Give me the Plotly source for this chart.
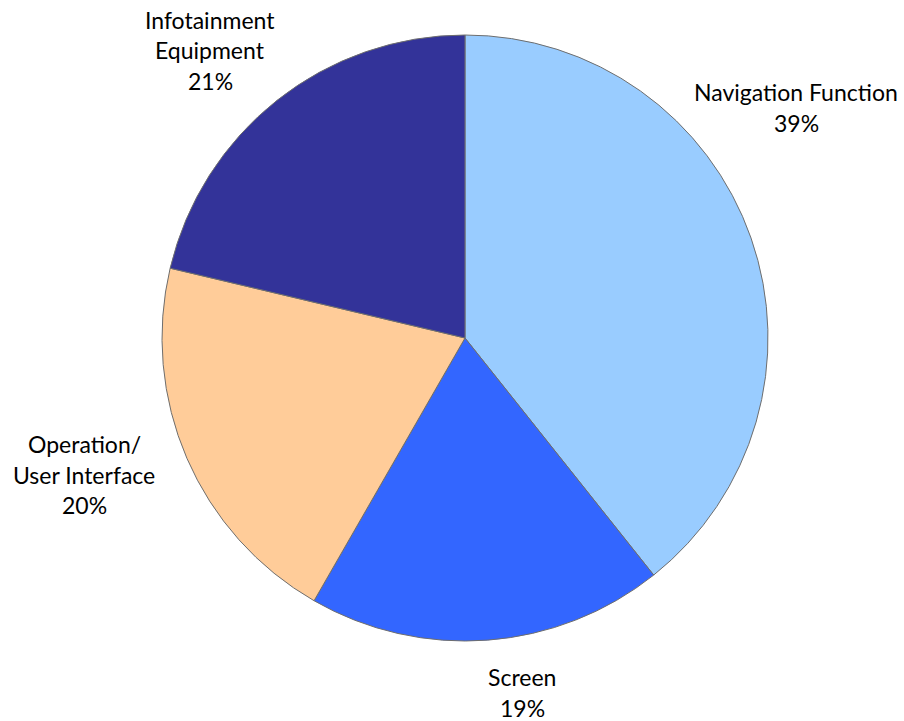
import plotly.graph_objects as go

labels = ["Navigation Function", "Screen", "Operation/<br>User Interface", "Infotainment<br>Equipment"]
values = [39.3, 19.0, 20.4, 21.3]
colors = ["#99CCFF", "#3366FF", "#FFCC99", "#333399"]

# label anchor positions (pixel centres of first line) and line spacing
label_pos = [(796, 92), (522, 677), (84, 444), (210, 20)]
LINE = 30.5
W, H = 904, 721

fig = go.Figure(go.Pie(
    labels=labels, values=values, sort=False, direction="clockwise", rotation=0,
    marker=dict(colors=colors, line=dict(color="#6E6E6E", width=1)),
    textinfo="none", hoverinfo="label+percent", showlegend=False,
    domain=dict(x=[(465 - 303) / W, (465 + 303) / W], y=[1 - 641 / H, 1 - 35 / H]),
))

annots = []
for lab, v, (px, py) in zip(labels, values, label_pos):
    lines = lab.split("<br>") + [f"{round(v)}%"]
    for i, t in enumerate(lines):
        annots.append(dict(
            x=px / W, y=1 - (py + i * LINE) / H, xref="paper", yref="paper",
            text=t, showarrow=False, xanchor="center", yanchor="middle",
            font=dict(family="Lato, Open Sans, sans-serif", size=23, color="#000000"),
        ))

fig.update_layout(
    width=W, height=H, margin=dict(l=0, r=0, t=0, b=0),
    paper_bgcolor="white", plot_bgcolor="white", annotations=annots,
)
fig.write_html("out.html")
